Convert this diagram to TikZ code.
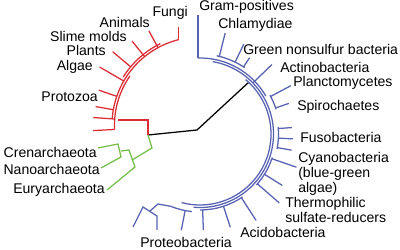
\documentclass[tikz,border=0pt]{standalone}
\usepackage{fontspec}
\setmainfont{Liberation Sans}
\definecolor{eukred}{RGB}{221,44,52}
\definecolor{archgreen}{RGB}{118,190,72}
\definecolor{bactblue}{RGB}{88,98,178}
\tikzset{
  euk/.style={eukred, line width=0.9pt},
  arch/.style={archgreen, line width=0.9pt},
  bact/.style={bactblue, line width=0.9pt},
  taxon/.style={inner sep=0pt, font=\fontsize{10}{10.5}\selectfont, align=left}
}
\begin{document}
\begin{tikzpicture}[x=0.25mm, y=0.25mm]
    \useasboundingbox (0,0) rectangle (400,-250);

    % root
    \draw[line width=0.9pt] (148,-135) -- (197,-130) -- (249,-82);

    % eukaryotes
    \begin{scope}[shift={(200,-125)}]
        \draw[euk] (104:88) arc[start angle=104, end angle=176, radius=88];
        \draw[euk] (116:90.5) arc[start angle=116, end angle=148, radius=90.5];
        \draw[euk] (145:85.5) arc[start angle=145, end angle=183, radius=85.5];
        \draw[euk] (104:88) -- ++(0,13);
        \foreach \a/\ri/\ro in {118.5/88/107, 129/88/108, 140/90.5/114, 150/88/116,
                                161/88/107, 170/88/106, 176/85.5/107, 183/85.5/107}
            \draw[euk] (\a:\ri) -- (\a:\ro);
    \end{scope}
    \draw[euk] (118,-120) -- (148,-120) -- (148,-135);

    % archaea
    \draw[arch] (148,-135) -- (152,-148) -- (132,-160);
    \draw[arch] (121,-151) -- (129,-150) -- (135,-167) -- (107,-190);
    \draw[arch] (98,-148) -- (118,-144) -- (121,-157) -- (101,-168);

    % bacteria
    \begin{scope}[shift={(200,-134)}]
        \draw[bact] (91.5:76) arc[start angle=91.5, end angle=30, radius=76];
        \draw[bact] (80:73.5) arc[start angle=80, end angle=-95, radius=73.5];
        \draw[bact] (50:71) arc[start angle=50, end angle=-105, radius=71];
        \draw[bact] (78:80) arc[start angle=78, end angle=56, radius=80];
        \draw[bact] (29:80) arc[start angle=29, end angle=18, radius=80];
        \draw[bact] (5:78.5) arc[start angle=5, end angle=-11, radius=78.5];
        \draw[bact] (-18:76) arc[start angle=-18, end angle=-42, radius=76];
        \draw[bact] (-56:76) arc[start angle=-56, end angle=-90, radius=76];
        \draw[bact] (-96:78) arc[start angle=-96, end angle=-112, radius=78];
        \draw[bact] (91.5:76) -- ++(0,43);
        \foreach \a/\ri/\ro in {76/80/104, 64/80/100, 57/80/91, 44/73.5/100,
                                28/80/103, 19/80/94, 4/78.5/92, -3/78.5/93, -10/78.5/93,
                                -19/76/102, -32/76/97, -41/76/105, -57/76/103,
                                -72/76/98, -88/76/96, -101/78/98}
            \draw[bact] (\a:\ri) -- (\a:\ro);
        \draw[bact] (-112:78) -- (158-200,-204+134) -- (150-200,-211+134);
    \end{scope}
    \draw[bact] (133,-227) -- (143,-207) -- (157,-216) -- (157,-230);

    % labels
    \node[taxon, anchor=east] (fungi) at (188,-13) {Fungi};
    \node[taxon, anchor=east] (animals) at (150,-22) {Animals};
    \node[taxon, anchor=east] (slime) at (127,-36) {Slime molds};
    \node[taxon, anchor=east] (plants) at (106,-50) {Plants};
    \node[taxon, anchor=east] (algae) at (93,-67) {Algae};
    \node[taxon, anchor=east] (protozoa) at (98,-97) {Protozoa};
    \node[taxon, anchor=east] (cren) at (97,-152) {Crenarchaeota};
    \node[taxon, anchor=east] (nano) at (100,-169) {Nanoarchaeota};
    \node[taxon, anchor=east] (eury) at (105,-190) {Euryarchaeota};

    \node[taxon, anchor=west] (gram) at (199,-7) {Gram-positives};
    \node[taxon, anchor=west] (chlam) at (218,-25) {Chlamydiae};
    \node[taxon, anchor=west] (greenns) at (243,-49) {Green nonsulfur bacteria};
    \node[taxon, anchor=west] (actino) at (280,-67) {Actinobacteria};
    \node[taxon, anchor=west] (plancto) at (293,-83) {Planctomycetes};
    \node[taxon, anchor=west] (spiro) at (297,-107) {Spirochaetes};
    \node[taxon, anchor=west] (fuso) at (300,-137) {Fusobacteria};
    \node[taxon, anchor=west] (cyano) at (298,-174) {Cyanobacteria\\(blue-green\\algae)};
    \node[taxon, anchor=west] (thermo) at (285,-210) {Thermophilic\\sulfate-reducers};
    \node[taxon, anchor=west] (acido) at (240,-232) {Acidobacteria};
    \node[taxon, anchor=west] (proteo) at (140,-242) {Proteobacteria};
\end{tikzpicture}
\end{document}
